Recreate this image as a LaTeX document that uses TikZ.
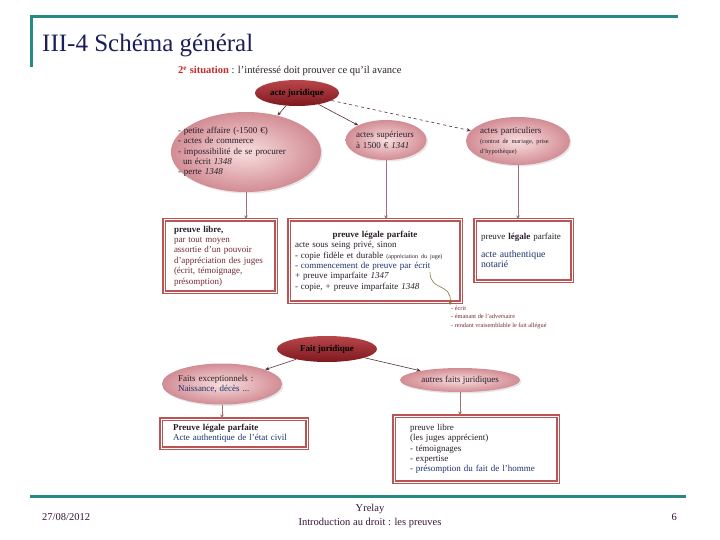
\documentclass[tikz,border=0pt]{standalone}
\usepackage{fontspec}
\setmainfont{Liberation Serif}
\usetikzlibrary{shapes.geometric, arrows.meta, positioning, shadows}

\definecolor{tealbar}{RGB}{38,138,130}
\definecolor{titleblue}{RGB}{28,30,88}
\definecolor{footpurple}{RGB}{55,20,55}
\definecolor{sitred}{RGB}{200,40,40}
\definecolor{redtop}{RGB}{185,70,75}
\definecolor{redbot}{RGB}{125,25,30}
\definecolor{pinkin}{RGB}{248,222,222}
\definecolor{pinkout}{RGB}{210,140,148}
\definecolor{boxred}{RGB}{185,85,85}
\definecolor{linkdk}{RGB}{85,45,45}
\definecolor{linkpk}{RGB}{165,110,115}
\definecolor{txtdark}{RGB}{40,30,40}
\definecolor{txtred}{RGB}{115,40,50}
\definecolor{txtblue}{RGB}{30,50,110}
\definecolor{curlcol}{RGB}{140,120,60}

\begin{document}
\begin{tikzpicture}[x=1pt, y=-1pt,
    darkell/.style={ellipse, top color=redtop, bottom color=redbot, text=black, font=\fontsize{9}{10}\selectfont\bfseries, inner sep=0pt},
    pinkell/.style={ellipse, inner color=pinkin, outer color=pinkout, text=txtdark, align=left, inner xsep=-20pt, inner ysep=-10pt,
                    drop shadow={opacity=0.2, shadow xshift=1.5pt, shadow yshift=-1.5pt}, font=\fontsize{9}{10.3}\selectfont},
    framebox/.style={rectangle, draw=boxred, line width=1.3pt, double=white, double distance=1pt, fill=white, align=left,
                     inner xsep=0pt, text=txtdark, font=\fontsize{9}{10.4}\selectfont},
    note/.style={anchor=north west, align=left, inner sep=1pt, text=txtred, font=\fontsize{6.3}{8.4}\selectfont},
    footer/.style={anchor=base, inner sep=0pt, text=footpurple, font=\fontsize{10.5}{12}\selectfont},
    link/.style={-{Stealth[length=4pt, width=3.5pt]}, draw=linkdk, line width=0.6pt},
    drop/.style={-{Stealth[length=4pt, width=3.5pt]}, draw=linkpk, line width=0.6pt},
    curl/.style={-{Stealth[length=4pt, width=3.5pt]}, draw=curlcol, line width=0.6pt}
]
    \useasboundingbox (0,0) rectangle (720,540);

    % Frame of the slide
    \draw[tealbar, line width=3pt] (29.5,17) -- (678,17);
    \draw[tealbar, line width=3pt] (31,15.5) -- (31,67);
    \draw[tealbar, line width=3pt] (30,496) -- (686,496);
    \node[anchor=base west, inner sep=0pt, text=titleblue, font=\fontsize{25}{30}\selectfont] (title) at (42,52) {III-4 Schéma général};

    \node[anchor=base west, inner sep=0pt, text=txtdark, font=\fontsize{10.5}{12}\selectfont] (situ) at (178,74)
        {\textcolor{sitred}{\textbf{2\textsuperscript{e} situation}} : l'intéressé doit prouver ce qu'il avance};

    % Acte juridique
    \node[darkell, minimum width=84pt, minimum height=26pt] (acte) at (297,93) {acte juridique};
    \node[pinkell, minimum width=150pt, minimum height=80pt, text width=136pt] (petite) at (246,152)
        {- petite affaire (-1500 €)\\ - actes de commerce\\ - impossibilité de se procurer\\ \hspace*{5pt}un écrit \textit{1348}\\ - perte \textit{1348}};
    \node[pinkell, minimum width=81pt, minimum height=40pt, text width=60pt] (sup) at (386,140)
        {actes supérieurs\\ à 1500 € \textit{1341}};
    \node[pinkell, minimum width=104pt, minimum height=48pt, text width=76pt] (part) at (518,141)
        {actes particuliers\\ {\fontsize{6.3}{7.5}\selectfont(contrat de mariage, prise}\\ {\fontsize{6.3}{7.5}\selectfont d'hypothèque)}};

    \node[framebox, minimum width=112pt, minimum height=72pt, text width=92pt] (libre) at (220,256)
        {\textbf{preuve libre,}\\ \color{txtred}par tout moyen\\ assortie d'un pouvoir\\ d'appréciation des juges\\ (écrit, témoignage,\\ présomption)};
    \node[framebox, minimum width=172pt, minimum height=82pt, text width=160pt] (legale) at (375,261)
        {{\centering\textbf{preuve légale parfaite}\par}
         acte sous seing privé, sinon\\
         - copie fidèle et durable {\fontsize{6}{7}\selectfont(appréciation du juge)}\\
         \textcolor{txtblue}{- commencement de preuve par écrit}\\
         + preuve imparfaite \textit{1347}\\
         - copie, + preuve imparfaite \textit{1348}};
    \node[framebox, minimum width=97pt, minimum height=61pt, text width=85pt] (authen) at (523.5,250.5)
        {preuve \textbf{légale} parfaite\\[7pt] \color{txtblue}\fontsize{9.8}{11.2}\selectfont acte authentique\\ notarié};

    \draw[link] (acte) -- (petite);
    \draw[link] (acte) -- (sup);
    \draw[link, dashed] (acte) -- (part);
    \draw[drop] (petite.south) -- (petite.south |- libre.north);
    \draw[drop] (sup.south) -- (sup.south |- legale.north);
    \draw[drop] (part.south) -- (part.south |- authen.north);

    % Commencement de preuve par ecrit
    \coordinate (ecrit) at (430,272);
    \node[note] (cond) at (450,305) {- écrit\\ - émanant de l'adversaire\\ - rendant vraisemblable le fait allégué};
    \draw[curl] (ecrit) .. controls (430,292) and (452,282) .. (cond.north west);

    % Fait juridique
    \node[darkell, minimum width=100pt, minimum height=26pt] (fait) at (327,349) {Fait juridique};
    \node[pinkell, minimum width=120pt, minimum height=41pt, text width=88pt] (excep) at (222,384)
        {Faits exceptionnels :\\ \color{txtblue}Naissance, décès ...};
    \node[pinkell, minimum width=120pt, minimum height=24pt] (autres) at (460,380) {autres faits juridiques};

    \node[framebox, minimum width=146pt, minimum height=29pt, text width=122pt] (civil) at (234,433.5)
        {\textbf{Preuve légale parfaite}\\ \color{txtblue}Acte authentique de l'état civil};
    \node[framebox, minimum width=164pt, minimum height=66pt, text width=132pt] (libre2) at (476,449)
        {preuve libre\\ (les juges apprécient)\\ - témoignages\\ - expertise\\ \color{txtblue}- présomption du fait de l'homme};

    \draw[link] (fait) -- (excep);
    \draw[link] (fait) -- (autres);
    \draw[drop] (excep.south) -- (excep.south |- civil.north);
    \draw[drop] (autres.south) -- (autres.south |- libre2.north);

    % Footer
    \node[footer, anchor=base west] (date) at (42,520) {27/08/2012};
    \node[footer] (auteur) at (370,511) {Yrelay};
    \node[footer] (cours) at (370,525) {Introduction au droit : les preuves};
    \node[footer, anchor=base east] (page) at (677,520) {6};
\end{tikzpicture}
\end{document}
